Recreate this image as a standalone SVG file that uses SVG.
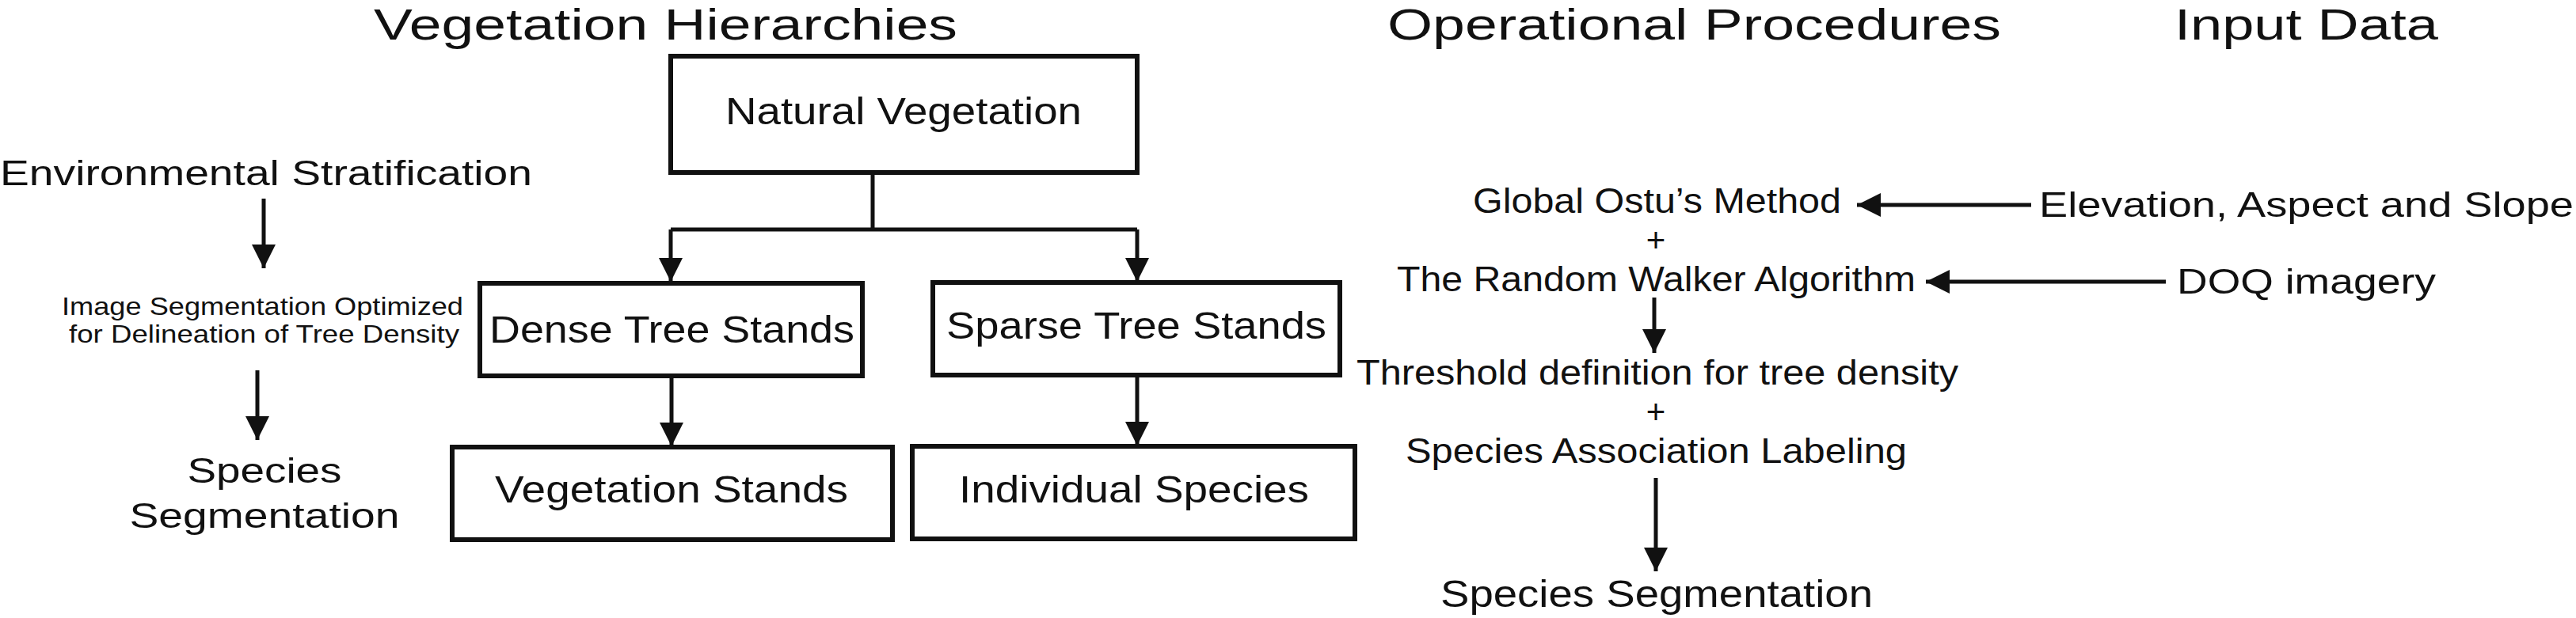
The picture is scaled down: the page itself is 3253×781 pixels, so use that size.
<svg xmlns="http://www.w3.org/2000/svg" width="3253" height="781" viewBox="0 0 3253 781">
<style>
text{font-family:"Liberation Sans",Arial,sans-serif;fill:#111}
.t{font-size:56px}.n{font-size:48px}.s{font-size:44px}.m{font-size:32px}.p{font-size:42px}
.mid{text-anchor:middle}
rect{fill:#fff;stroke:#111;stroke-width:6}
.c line,.c path{stroke:#111;stroke-width:5;fill:none}
</style>
<defs>
<marker id="ah" viewBox="0 0 10 10" refX="10" refY="5" markerWidth="7" markerHeight="6" markerUnits="strokeWidth" orient="auto"><path d="M0,0L10,5L0,10z" fill="#111"/></marker>
</defs>
<g id="titles">
<text class="t" x="472" y="50" textLength="737" lengthAdjust="spacingAndGlyphs">Vegetation Hierarchies</text>
<text class="t" x="1752" y="50" textLength="775" lengthAdjust="spacingAndGlyphs">Operational Procedures</text>
<text class="t" x="2746" y="50" textLength="333" lengthAdjust="spacingAndGlyphs">Input Data</text>
</g>
<g id="natural"><rect x="847" y="71" width="589" height="147"/><text class="n" x="916" y="157" textLength="450" lengthAdjust="spacingAndGlyphs">Natural Vegetation</text></g>
<g id="dense"><rect x="606" y="358" width="483" height="117"/><text class="n" x="618" y="433" textLength="461" lengthAdjust="spacingAndGlyphs">Dense Tree Stands</text></g>
<g id="sparse"><rect x="1178" y="357" width="514" height="117"/><text class="n" x="1195" y="428" textLength="480" lengthAdjust="spacingAndGlyphs">Sparse Tree Stands</text></g>
<g id="vegstands"><rect x="571" y="565" width="556" height="117"/><text class="n" x="625" y="635" textLength="446" lengthAdjust="spacingAndGlyphs">Vegetation Stands</text></g>
<g id="indiv"><rect x="1152" y="564" width="559" height="117"/><text class="n" x="1211" y="635" textLength="442" lengthAdjust="spacingAndGlyphs">Individual Species</text></g>
<g id="left">
<text class="s" x="0" y="234" textLength="672" lengthAdjust="spacingAndGlyphs">Environmental Stratification</text>
<text class="m" x="78" y="398" textLength="507" lengthAdjust="spacingAndGlyphs">Image Segmentation Optimized</text>
<text class="m" x="87" y="433" textLength="493" lengthAdjust="spacingAndGlyphs">for Delineation of Tree Density</text>
<text class="s mid" x="334" y="610" textLength="195" lengthAdjust="spacingAndGlyphs">Species</text>
<text class="s mid" x="334" y="667" textLength="341" lengthAdjust="spacingAndGlyphs">Segmentation</text>
</g>
<g id="procedures">
<text class="s" x="1860" y="269" textLength="465" lengthAdjust="spacingAndGlyphs">Global Ostu’s Method</text>
<text class="p mid" x="2091" y="318">+</text>
<text class="s" x="1764" y="368" textLength="655" lengthAdjust="spacingAndGlyphs">The Random Walker Algorithm</text>
<text class="s" x="1713" y="486" textLength="760" lengthAdjust="spacingAndGlyphs">Threshold definition for tree density</text>
<text class="p mid" x="2091" y="535">+</text>
<text class="s" x="1775" y="585" textLength="633" lengthAdjust="spacingAndGlyphs">Species Association Labeling</text>
<text class="n" x="1819" y="767" textLength="546" lengthAdjust="spacingAndGlyphs">Species Segmentation</text>
</g>
<g id="inputs">
<text class="s" x="2575" y="274" textLength="675" lengthAdjust="spacingAndGlyphs">Elevation, Aspect and Slope</text>
<text class="s" x="2749" y="371" textLength="327" lengthAdjust="spacingAndGlyphs">DOQ imagery</text>
</g>
<g class="c" id="connectors">
<path d="M1102,218V290M847,290H1436"/>
<line x1="847" y1="290" x2="847" y2="356" marker-end="url(#ah)"/>
<line x1="1436" y1="290" x2="1436" y2="356" marker-end="url(#ah)"/>
<line x1="848" y1="475" x2="848" y2="564" marker-end="url(#ah)"/>
<line x1="1436" y1="474" x2="1436" y2="563" marker-end="url(#ah)"/>
<line x1="333" y1="251" x2="333" y2="339" marker-end="url(#ah)"/>
<line x1="325" y1="468" x2="325" y2="556" marker-end="url(#ah)"/>
<line x1="2565" y1="259" x2="2345" y2="259" marker-end="url(#ah)"/>
<line x1="2735" y1="356" x2="2432" y2="356" marker-end="url(#ah)"/>
<line x1="2089" y1="376" x2="2089" y2="446" marker-end="url(#ah)"/>
<line x1="2091" y1="604" x2="2091" y2="722" marker-end="url(#ah)"/>
</g>
</svg>
